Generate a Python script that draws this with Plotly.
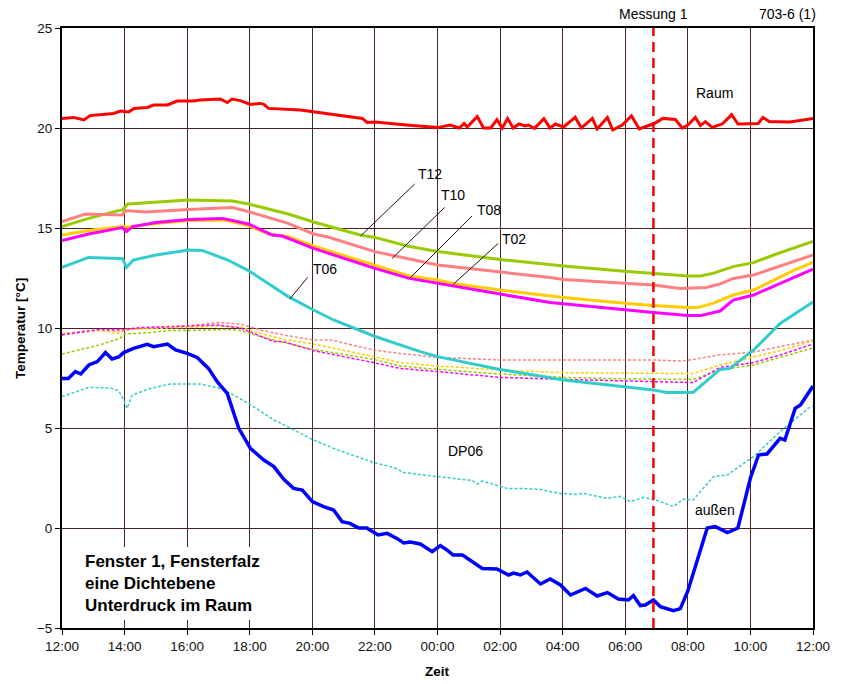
import plotly.graph_objects as go

# ---------------- data (hours after 12:00) ----------------
tick_hours = [0, 2, 4, 6, 8, 10, 12, 14, 16, 18, 20, 22, 24]
tick_labels = ["12:00", "14:00", "16:00", "18:00", "20:00", "22:00", "00:00",
               "02:00", "04:00", "06:00", "08:00", "10:00", "12:00"]
messung_time = 18.9

raum_t = [0, 0.37, 0.7, 0.9, 1.65, 1.87, 2.13, 2.3, 2.73, 2.93, 3.37, 3.68, 4.2, 4.42, 5.06,
          5.28, 5.43, 5.7, 6.02, 6.34, 6.45, 6.6, 7.62, 8.0, 9.6, 9.75, 10.0, 11.0, 12.0, 12.4,
          12.7, 12.85, 12.95, 13.27, 13.47, 13.7, 13.9, 14.07, 14.24, 14.42, 14.6, 14.8, 14.9,
          15.1, 15.4, 15.6, 15.77, 16.03, 16.4, 16.6, 16.95, 17.1, 17.43, 17.6, 17.9, 18.2,
          18.45, 18.7, 18.9, 19.2, 19.6, 19.82, 20.0, 20.24, 20.4, 20.56, 20.78, 21.1, 21.4,
          21.6, 22.25, 22.4, 22.6, 23.27, 24.0]
raum_v = [20.48, 20.53, 20.4, 20.62, 20.73, 20.85, 20.8, 20.98, 21.03, 21.15, 21.15, 21.35,
          21.35, 21.4, 21.45, 21.27, 21.45, 21.37, 21.18, 21.23, 21.18, 20.98, 20.9, 20.82,
          20.48, 20.28, 20.3, 20.15, 20.02, 20.15, 20.0, 20.23, 20.05, 20.57, 20.0, 20.0, 20.42,
          20.0, 20.47, 20.0, 20.2, 20.1, 20.15, 19.98, 20.47, 20.0, 20.2, 20.05, 20.53, 20.0,
          20.48, 19.95, 20.53, 19.9, 20.15, 20.6, 19.95, 20.1, 20.2, 20.48, 20.43, 20.0, 20.15,
          20.53, 20.12, 20.32, 20.03, 20.2, 20.67, 20.2, 20.23, 20.53, 20.32, 20.3, 20.47]

t12_t = [0, 0.85, 1.8, 1.93, 2.1, 3.0, 4.05, 5.45, 5.96, 7.23, 8.04, 9.53, 10.0, 11.03, 12.0,
         14.0, 15.6, 16.03, 18.06, 18.9, 20.0, 20.4, 20.8, 21.45, 22.1, 22.74, 23.37, 24.0]
t12_v = [15.07, 15.48, 15.87, 15.9, 16.2, 16.28, 16.4, 16.35, 16.2, 15.7, 15.3, 14.65, 14.53,
         14.1, 13.82, 13.43, 13.15, 13.1, 12.82, 12.73, 12.6, 12.6, 12.73, 13.07, 13.27, 13.65,
         13.98, 14.33]

t10_t = [0, 0.75, 1.93, 2.03, 2.67, 4.05, 5.45, 5.96, 7.23, 8.04, 8.5, 10.0, 12.0, 14.0, 15.6,
         16.03, 18.06, 18.9, 19.75, 20.6, 21.03, 21.45, 22.1, 22.74, 23.37, 24.0]
t10_v = [15.32, 15.7, 15.65, 15.87, 15.8, 15.93, 16.02, 15.82, 15.23, 14.7, 14.55, 13.82,
         13.15, 12.82, 12.52, 12.43, 12.23, 12.15, 11.98, 12.03, 12.2, 12.48, 12.65, 12.98,
         13.32, 13.65]

t08_t = [0, 0.85, 1.93, 2.1, 3.0, 4.05, 5.2, 5.96, 6.6, 7.23, 8.04, 10.0, 11.1, 12.0, 12.5,
         14.0, 15.6, 16.03, 18.06, 18.9, 20.0, 20.3, 20.8, 21.45, 22.1, 22.74, 23.37, 24.0]
t08_v = [14.65, 14.87, 15.07, 15.05, 15.23, 15.37, 15.4, 15.12, 14.7, 14.57, 14.1, 13.15, 12.6,
         12.4, 12.23, 11.9, 11.6, 11.53, 11.23, 11.12, 11.02, 11.02, 11.23, 11.65, 11.9, 12.4,
         12.87, 13.3]

t02_t = [0, 0.85, 1.8, 1.93, 2.06, 2.26, 3.0, 4.05, 5.13, 5.96, 6.72, 7.04, 8.04, 10.0, 11.1,
         12.0, 14.0, 15.6, 16.03, 18.06, 18.9, 20.0, 20.4, 21.03, 21.45, 22.1, 22.74, 23.37, 24.0]
t02_v = [14.37, 14.7, 14.98, 15.02, 14.82, 15.07, 15.27, 15.43, 15.48, 15.2, 14.65, 14.6,
         13.98, 12.98, 12.48, 12.23, 11.7, 11.27, 11.2, 10.87, 10.77, 10.62, 10.62, 10.85,
         11.4, 11.65, 12.1, 12.53, 12.95]

t06_t = [0, 0.85, 1.8, 1.93, 2.06, 2.28, 3.0, 4.05, 4.48, 5.3, 5.96, 7.23, 8.04, 8.68, 9.96,
         10.8, 11.45, 12.0, 14.0, 16.03, 18.06, 18.9, 19.33, 20.17, 21.03, 21.35, 22.1, 22.95, 24.0]
t06_v = [13.03, 13.53, 13.48, 13.48, 13.03, 13.4, 13.65, 13.9, 13.88, 13.4, 12.87, 11.57, 10.9,
         10.4, 9.6, 9.15, 8.82, 8.57, 7.93, 7.4, 7.07, 6.9, 6.78, 6.78, 7.93, 7.98, 8.9, 10.23,
         11.3]

aussen_t = [0, 0.2, 0.43, 0.6, 0.86, 1.13, 1.39, 1.6, 1.81, 1.97, 2.29, 2.72, 2.93, 3.37, 3.63,
            4.0, 4.32, 4.68, 4.96, 5.28, 5.65, 6.02, 6.45, 6.77, 7.08, 7.4, 7.68, 8.0, 8.36,
            8.68, 8.95, 9.2, 9.48, 9.74, 10.1, 10.39, 10.7, 10.92, 11.13, 11.45, 11.83, 12.09,
            12.3, 12.5, 12.8, 13.43, 13.9, 14.27, 14.43, 14.65, 14.86, 15.29, 15.6, 15.93, 16.25,
            16.73, 17.1, 17.43, 17.78, 18.1, 18.26, 18.48, 18.64, 18.9, 19.12, 19.54, 19.76,
            20.0, 20.62, 20.88, 21.26, 21.6, 22.0, 22.26, 22.53, 22.95, 23.1, 23.43, 23.6, 24.0]
aussen_v = [7.48, 7.48, 7.82, 7.7, 8.15, 8.32, 8.77, 8.45, 8.55, 8.77, 8.98, 9.18, 9.07, 9.2,
            8.9, 8.73, 8.53, 7.98, 7.32, 6.73, 4.98, 3.98, 3.4, 3.07, 2.45, 1.98, 1.9, 1.32,
            1.07, 0.9, 0.32, 0.23, 0.0, 0.0, -0.35, -0.27, -0.52, -0.75, -0.7, -0.8, -1.18,
            -0.88, -1.1, -1.35, -1.35, -2.02, -2.05, -2.35, -2.25, -2.35, -2.2, -2.8, -2.55,
            -2.85, -3.35, -3.02, -3.4, -3.23, -3.55, -3.6, -3.38, -3.88, -3.85, -3.6, -3.93,
            -4.13, -4.03, -3.15, 0.0, 0.07, -0.23, 0.0, 2.5, 3.65, 3.7, 4.48, 4.4, 5.98, 6.15, 7.1]

dp06_t = [0, 0.86, 1.55, 1.81, 1.97, 2.08, 2.24, 2.83, 3.46, 4.0, 4.42, 5.06, 5.48, 6.12, 6.77,
          7.2, 8.04, 8.68, 9.96, 10.6, 10.92, 12.0, 13.12, 13.27, 13.43, 14.23, 14.55, 15.29,
          15.5, 15.93, 16.46, 16.67, 17.43, 17.84, 18.16, 18.58, 19.02, 19.54, 19.86, 20.17,
          20.82, 21.26, 22.1, 22.95, 23.84, 24.0]
dp06_v = [6.57, 7.03, 7.0, 6.87, 6.4, 5.98, 6.65, 6.98, 7.2, 7.2, 7.2, 6.98, 6.65, 6.07, 5.4,
          5.07, 4.4, 3.98, 3.27, 3.03, 2.77, 2.57, 2.37, 2.2, 2.35, 1.98, 1.98, 1.93, 1.85, 1.73,
          1.68, 1.73, 1.48, 1.58, 1.32, 1.53, 1.38, 1.07, 1.45, 1.4, 2.57, 2.65, 3.57, 4.82,
          5.98, 6.1]

dp10_t = [0, 1.2, 1.85, 2.5, 4.0, 4.96, 5.7, 6.34, 7.08, 8.04, 8.58, 9.96, 10.8, 12.0, 14.0,
          16.03, 18.06, 18.9, 19.75, 20.17, 20.8, 21.03, 22.1, 22.95, 24.0]
dp10_v = [9.73, 9.9, 9.85, 9.98, 10.1, 10.27, 10.2, 9.9, 9.65, 9.4, 9.4, 8.9, 8.73, 8.53, 8.4,
          8.4, 8.42, 8.4, 8.35, 8.42, 8.6, 8.65, 8.8, 9.07, 9.4]

dp08_t = [0, 1.2, 1.85, 2.0, 4.0, 4.96, 5.7, 6.34, 7.08, 8.04, 9.96, 10.8, 12.0, 14.0, 16.03,
          18.06, 20.17, 21.03, 22.1, 22.95, 24.0]
dp08_v = [9.7, 9.87, 9.73, 9.93, 10.03, 10.1, 10.05, 9.73, 9.43, 9.2, 8.57, 8.27, 8.1, 7.9,
          7.77, 7.73, 7.72, 8.15, 8.57, 8.87, 9.35]

dp12_t = [0, 1.2, 1.85, 2.0, 2.83, 3.37, 4.0, 5.28, 5.7, 6.34, 7.08, 8.04, 9.96, 10.8, 12.0,
          14.0, 16.03, 18.06, 20.17, 21.03, 22.1, 22.95, 24.0]
dp12_v = [8.7, 9.15, 9.48, 9.7, 9.77, 9.87, 9.87, 9.93, 9.88, 9.57, 9.27, 8.93, 8.43, 8.1, 7.93,
          7.7, 7.53, 7.45, 7.43, 7.9, 8.15, 8.53, 9.0]

dp02_t = [0, 1.2, 1.97, 2.5, 4.0, 4.96, 5.7, 6.34, 6.77, 7.08, 8.04, 9.96, 10.8, 12.0, 14.0,
          16.03, 18.06, 20.17, 21.03, 22.1, 22.95, 24.0]
dp02_v = [9.65, 9.93, 9.93, 10.02, 10.1, 10.15, 10.0, 9.57, 9.32, 9.32, 8.87, 8.27, 7.98, 7.82,
          7.53, 7.43, 7.35, 7.27, 8.03, 8.27, 8.65, 9.2]

# ---------------- styling ----------------
C_RED = "#ff0000"
C_GREEN = "#99cc00"
C_SALMON = "#ff8080"
C_YELLOW = "#ffcc00"
C_MAGENTA = "#ff00ff"
C_CYAN = "#33cccc"
C_BLUE = "#0000ff"
GRID = "#4a2424"
FONT = "Liberation Sans, Arial, sans-serif"

fig = go.Figure()

def add(t, v, color, width, dash="solid"):
    fig.add_trace(go.Scatter(x=t, y=v, mode="lines",
                             line=dict(color=color, width=width, dash=dash),
                             hoverinfo="skip", showlegend=False))

# dashed dew-point lines
add(dp10_t, dp10_v, C_SALMON, 1.5, "3px,2px")
add(dp08_t, dp08_v, C_YELLOW, 1.5, "3px,2px")
add(dp12_t, dp12_v, C_GREEN, 1.5, "3px,2px")
add(dp02_t, dp02_v, C_MAGENTA, 1.5, "3px,2px")
add(dp06_t, dp06_v, C_CYAN, 1.5, "3px,2px")
# solid temperature lines
add(t06_t, t06_v, C_CYAN, 3)
add(t12_t, t12_v, C_GREEN, 3)
add(t10_t, t10_v, C_SALMON, 3)
add(t08_t, t08_v, C_YELLOW, 3)
add(t02_t, t02_v, C_MAGENTA, 3)
add(raum_t, raum_v, C_RED, 3)
add(aussen_t, aussen_v, C_BLUE, 3.5)

# measurement marker
fig.add_shape(type="line", x0=messung_time, x1=messung_time, y0=0, y1=1,
              xref="x", yref="paper", line=dict(color=C_RED, width=2.5, dash="10px,6px"),
              layer="above")

# leader lines for labels
leaders = [
    (11.27, 17.2, 9.54, 14.6),
    (12.23, 16.03, 10.55, 13.48),
    (13.1, 15.6, 11.11, 12.48),
    (13.94, 14.23, 12.5, 12.18),
    (7.85, 12.53, 7.28, 11.45),
]
for x0, y0, x1, y1 in leaders:
    fig.add_shape(type="line", x0=x0, y0=y0, x1=x1, y1=y1, xref="x", yref="y",
                  line=dict(color="#2a1010", width=1), layer="above")

labels = [
    ("T12", 11.77, 17.7), ("T10", 12.48, 16.65), ("T08", 13.63, 15.9),
    ("T02", 14.43, 14.45), ("T06", 8.39, 12.95), ("Raum", 20.86, 21.75),
    ("DP06", 12.9, 3.85), ("außen", 20.88, 0.9),
]
for txt, x, y in labels:
    fig.add_annotation(x=x, y=y, xref="x", yref="y", text=txt, showarrow=False,
                       font=dict(family=FONT, size=14, color="black"))

# white info box
fig.add_shape(type="rect", x0=0.53, x1=6.65, y0=-4.6, y1=-0.95, xref="x", yref="y",
              fillcolor="white", line=dict(width=0), layer="above")
for txt, y in [("Fenster 1, Fensterfalz", -1.65), ("eine Dichtebene", -2.75),
               ("Unterdruck im Raum", -3.85)]:
    fig.add_annotation(x=0.68, y=y, xref="x", yref="y", text="<b>" + txt + "</b>",
                       showarrow=False, xanchor="left", yanchor="middle",
                       font=dict(family=FONT, size=17, color="black"))

fig.add_annotation(x=messung_time, y=1.023, xref="x", yref="paper", text="Messung 1",
                   showarrow=False, xanchor="center", yanchor="middle",
                   font=dict(family=FONT, size=14, color="black"))
fig.add_annotation(x=1.006, y=1.023, xref="paper", yref="paper", text="703-6 (1)",
                   showarrow=False, xanchor="right", yanchor="middle",
                   font=dict(family=FONT, size=14, color="black"))
fig.add_annotation(x=0.5, y=-0.073, xref="paper", yref="paper", text="<b>Zeit</b>",
                   showarrow=False, xanchor="center", yanchor="middle",
                   font=dict(family=FONT, size=13.5, color="black"))
fig.add_annotation(x=-0.056, y=0.5, xref="paper", yref="paper", text="<b>Temperatur [°C]</b>",
                   showarrow=False, textangle=-90, xanchor="center", yanchor="middle",
                   font=dict(family=FONT, size=13.5, color="black"))

fig.update_layout(
    width=843, height=684,
    margin=dict(l=62, r=30, t=28, b=56),
    paper_bgcolor="white", plot_bgcolor="white",
    font=dict(family=FONT, size=13.5, color="black"),
    showlegend=False,
)
fig.update_xaxes(range=[0, 24], tickvals=tick_hours, ticktext=tick_labels,
                 showgrid=True, gridcolor=GRID, gridwidth=1, zeroline=False,
                 showline=True, linecolor="black", linewidth=2, mirror=True,
                 ticks="outside", ticklen=5, tickcolor="black",
                 tickfont=dict(family=FONT, size=13.5, color="#111"))
fig.update_yaxes(range=[-5, 25], dtick=5, tick0=-5,
                 showgrid=True, gridcolor=GRID, gridwidth=1, zeroline=False,
                 showline=True, linecolor="black", linewidth=2, mirror=True,
                 ticks="outside", ticklen=5, tickcolor="black",
                 tickfont=dict(family=FONT, size=13.5, color="#111"))

fig.write_html("out.html")
